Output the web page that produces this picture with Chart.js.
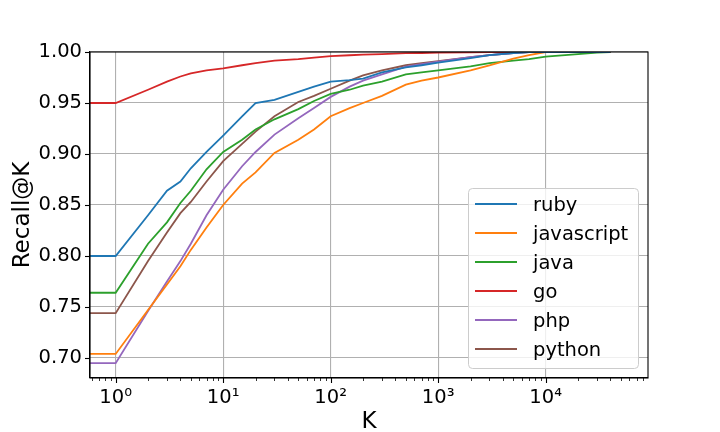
<!DOCTYPE html>
<html>
<head>
<meta charset="utf-8">
<script src="https://cdn.jsdelivr.net/npm/chart.js@4.4.1/dist/chart.umd.min.js"></script>
<style>
  html, body { margin: 0; padding: 0; background: #fff; }
  #wrap { width: 720px; height: 432px; }
</style>
</head>
<body>
<div id="wrap"><canvas id="recallChart" width="720" height="432"></canvas></div>
<script>
// K values shared by every series (0.5 lies left of the axis, so the flat start gets clipped)
const kValues = [0.5, 1, 2, 3, 4, 5, 7, 10, 15, 20, 30, 50, 70, 100, 150, 200, 300, 500, 700, 1000, 2000, 3000, 5000, 7000, 10000, 20000, 30000, 40000];

// Recall@K per language
const ruby = [0.800, 0.800, 0.840, 0.864, 0.873, 0.886, 0.902, 0.918, 0.937, 0.950, 0.953, 0.961, 0.966, 0.971, 0.9725, 0.974, 0.980, 0.985, 0.987, 0.9895, 0.994, 0.997, 0.999, 1, 1, 1, 1, 1];
const javascript = [0.704, 0.704, 0.747, 0.772, 0.790, 0.806, 0.828, 0.850, 0.871, 0.882, 0.901, 0.914, 0.924, 0.937, 0.945, 0.950, 0.957, 0.968, 0.972, 0.975, 0.982, 0.987, 0.9935, 0.997, 1, 1, 1, 1];
const java = [0.764, 0.764, 0.812, 0.833, 0.852, 0.864, 0.885, 0.902, 0.914, 0.924, 0.934, 0.944, 0.952, 0.959, 0.963, 0.967, 0.971, 0.978, 0.980, 0.982, 0.986, 0.989, 0.9915, 0.993, 0.9954, 0.998, 0.9995, 1];
const go = [0.950, 0.950, 0.963, 0.971, 0.976, 0.979, 0.982, 0.984, 0.987, 0.989, 0.9915, 0.993, 0.9945, 0.996, 0.9968, 0.9975, 0.998, 0.9988, 0.999, 0.9993, 0.9997, 1, 1, 1, 1, 1, 1, 1];
const php = [0.695, 0.695, 0.746, 0.775, 0.795, 0.812, 0.840, 0.865, 0.888, 0.902, 0.919, 0.935, 0.945, 0.956, 0.966, 0.972, 0.978, 0.9856, 0.988, 0.9905, 0.995, 0.997, 0.999, 1, 1, 1, 1, 1];
const python = [0.744, 0.744, 0.795, 0.823, 0.842, 0.853, 0.873, 0.893, 0.910, 0.922, 0.937, 0.951, 0.957, 0.964, 0.972, 0.977, 0.982, 0.987, 0.989, 0.991, 0.995, 0.997, 0.999, 1, 1, 1, 1, 1];

const seriesNames = ['ruby', 'javascript', 'java', 'go', 'php', 'python'];
const seriesValues = [ruby, javascript, java, go, php, python];
const seriesColors = ['#1f77b4', '#ff7f0e', '#2ca02c', '#d62728', '#9467bd', '#8c564b'];

// Tick labels
const xMajorTicks = [1, 10, 100, 1000, 10000];
const xTickLabels = ['10⁰', '10¹', '10²', '10³', '10⁴'];
const yTicks = [0.70, 0.75, 0.80, 0.85, 0.90, 0.95, 1.00];

const FONT = '"DejaVu Sans", sans-serif';
const GRID = '#b0b0b0';

// Ticks, minor ticks and the full frame, drawn over the lines like matplotlib does
const frameAndTicks = {
	id: 'frameAndTicks',
	afterDraw(chart) {
		let { ctx, chartArea: a, scales: { x, y } } = chart;
		ctx.save();
		ctx.strokeStyle = '#000';

		ctx.lineWidth = 1.1;
		for (let v of xMajorTicks) {
			let px = Math.round(x.getPixelForValue(v)) + 0.5;
			ctx.beginPath(); ctx.moveTo(px, a.bottom); ctx.lineTo(px, a.bottom + 5); ctx.stroke();
		}
		for (let v of yTicks) {
			let py = Math.round(y.getPixelForValue(v)) + 0.5;
			ctx.beginPath(); ctx.moveTo(a.left, py); ctx.lineTo(a.left - 5, py); ctx.stroke();
		}

		ctx.lineWidth = 0.8;
		for (let e = -1; e <= 4; e++) {
			for (let m = 2; m <= 9; m++) {
				let v = m * Math.pow(10, e);
				if (v < x.min || v > x.max) continue;
				let px = Math.round(x.getPixelForValue(v)) + 0.5;
				ctx.beginPath(); ctx.moveTo(px, a.bottom); ctx.lineTo(px, a.bottom + 3); ctx.stroke();
			}
		}

		ctx.lineWidth = 1.1;
		ctx.strokeRect(a.left, a.top, a.right - a.left, a.bottom - a.top);
		ctx.restore();
	}
};

// Legend box inside the plot, lower right
const boxLegend = {
	id: 'boxLegend',
	afterDraw(chart) {
		let { ctx, chartArea: a } = chart;
		let w = 170, h = 180, rowH = 29;
		let left = a.right - 10 - w, top = a.bottom - 10 - h;
		ctx.save();
		ctx.beginPath();
		ctx.roundRect(left + 0.5, top + 0.5, w, h, 4);
		ctx.fillStyle = 'rgba(255,255,255,0.8)';
		ctx.fill();
		ctx.strokeStyle = '#cccccc';
		ctx.lineWidth = 1;
		ctx.stroke();

		ctx.font = '19.5px ' + FONT;
		ctx.textBaseline = 'middle';
		chart.data.datasets.forEach((ds, i) => {
			let cy = top + 16 + i * rowH;
			ctx.strokeStyle = ds.borderColor;
			ctx.lineWidth = 2;
			ctx.beginPath(); ctx.moveTo(left + 7, cy); ctx.lineTo(left + 49, cy); ctx.stroke();
			ctx.fillStyle = '#000';
			ctx.fillText(ds.label, left + 65, cy + 2);
		});
		ctx.restore();
	}
};

let datasets = seriesNames.map((name, i) => ({
	label: name,
	data: kValues.map((k, j) => ({ x: k, y: seriesValues[i][j] })),
	borderColor: seriesColors[i],
	backgroundColor: seriesColors[i],
	borderWidth: 1.8,
	pointRadius: 0,
	tension: 0,
	clip: 0
}));

new Chart(document.getElementById('recallChart'), {
	type: 'line',
	data: { datasets },
	plugins: [frameAndTicks, boxLegend],
	options: {
		responsive: false,
		animation: false,
		layout: { padding: { top: 52, right: 72, left: 0, bottom: 0 } },
		plugins: { legend: { display: false }, tooltip: { enabled: false } },
		scales: {
			x: {
				type: 'logarithmic',
				min: 0.577,
				max: 89500,
				afterFit: s => { s.height = 54; },
				afterBuildTicks: s => { s.ticks = xMajorTicks.map(v => ({ value: v, major: true })); },
				ticks: {
					autoSkip: false,
					maxRotation: 0,
					padding: 8,
					color: '#000',
					font: { family: FONT, size: 19.5 },
					callback: (v, i) => xTickLabels[i]
				},
				grid: { color: GRID, lineWidth: 1.1, drawTicks: false },
				border: { color: '#000', width: 1.1 },
				title: {
					display: true,
					text: 'K',
					color: '#000',
					font: { family: FONT, size: 23 },
					padding: { top: 0, bottom: -4 }
				}
			},
			y: {
				type: 'linear',
				min: 0.6804,
				max: 1.0,
				afterFit: s => { s.width = 90; },
				afterBuildTicks: s => { s.ticks = yTicks.map(v => ({ value: v })); },
				ticks: {
					autoSkip: false,
					padding: 8,
					color: '#000',
					font: { family: FONT, size: 19.5 },
					callback: v => v.toFixed(2)
				},
				grid: { color: GRID, lineWidth: 1.1, drawTicks: false },
				border: { color: '#000', width: 1.1 },
				title: {
					display: true,
					text: 'Recall@K',
					color: '#000',
					font: { family: FONT, size: 23 },
					padding: { top: 9, bottom: 0 }
				}
			}
		}
	}
});
</script>
</body>
</html>
